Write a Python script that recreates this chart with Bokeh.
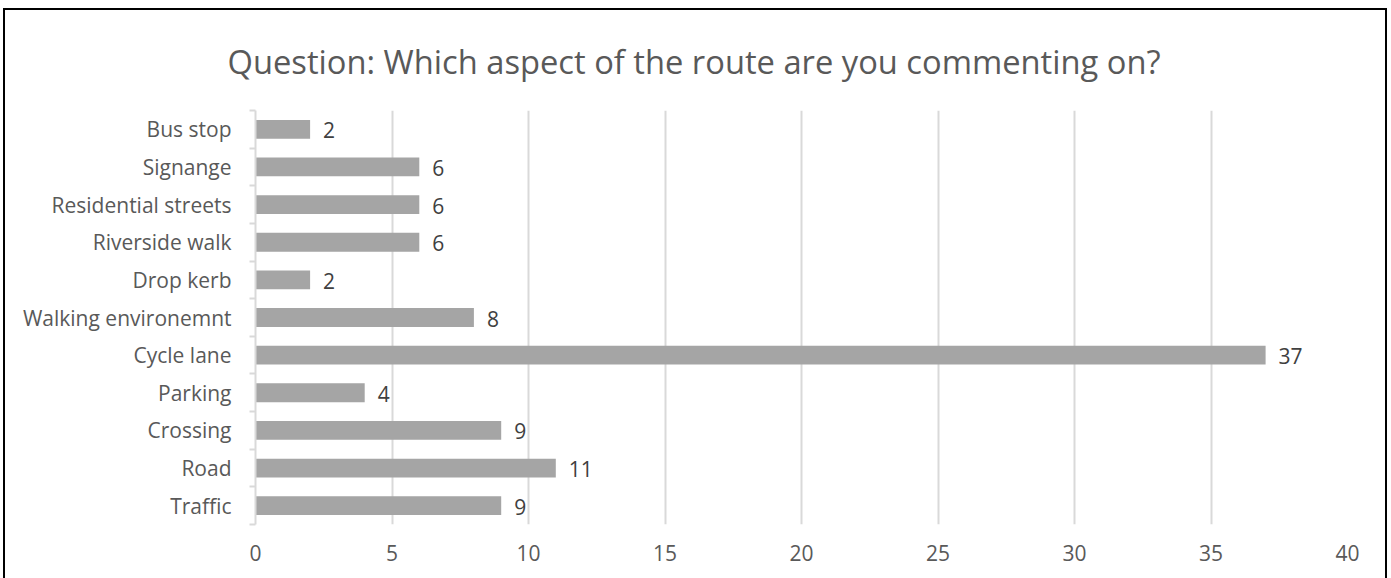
from bokeh.plotting import figure
from bokeh.models import FixedTicker, ColumnDataSource, LabelSet, Range1d
from bokeh.core.properties import value
from bokeh.embed import file_html
from bokeh.resources import INLINE

# Data (bottom -> top)
categories = ["Traffic", "Road", "Crossing", "Parking", "Cycle lane",
              "Walking environemnt", "Drop kerb", "Riverside walk",
              "Residential streets", "Signange", "Bus stop"]
counts = [9, 11, 9, 4, 37, 8, 2, 6, 6, 6, 2]
x_ticks = [0, 5, 10, 15, 20, 25, 30, 35, 40]
title_text = "Question: Which aspect of the route are you commenting on?"

FONT = "Open Sans"
GREY_TXT = "#595959"

ypos = [i + 0.5 for i in range(len(categories))]
src = ColumnDataSource(dict(y=ypos, v=counts, lbl=[str(c) for c in counts], cat=categories))

p = figure(width=1384, height=570, output_backend="svg", toolbar_location=None,
           x_range=Range1d(0, 40), y_range=Range1d(0, len(categories)),
           min_border_left=250, min_border_right=42, min_border_top=98, min_border_bottom=56,
           title=title_text)
p.styles = {"border": "2px solid black", "border-bottom": "none",
            "margin-left": "3px", "margin-top": "8px"}

p.hbar(y="y", right="v", left=0, height=0.5, source=src, fill_color="#a5a5a5", line_color=None)

labels = LabelSet(x="v", y="y", text="lbl", source=src, x_offset=13, y_offset=-1,
                  text_baseline="middle", text_align="left", text_color="#404040",
                  text_font=value(FONT), text_font_size="21px")
p.add_layout(labels)

p.title.text_font = FONT
p.title.text_font_size = "32.7px"
p.title.text_font_style = "normal"
p.title.text_color = GREY_TXT
p.title.align = "left"
p.title.offset = -28
p.title.standoff = 53

p.outline_line_color = None
p.background_fill_color = "white"
p.border_fill_color = "white"

# x axis
p.xaxis.ticker = FixedTicker(ticks=x_ticks)
p.xaxis.axis_line_color = None
p.xaxis.major_tick_line_color = None
p.xaxis.minor_tick_line_color = None
p.xaxis.major_label_text_font = FONT
p.xaxis.major_label_text_font_size = "21px"
p.xaxis.major_label_text_color = GREY_TXT
p.xaxis.major_label_standoff = 14

p.xgrid.ticker = FixedTicker(ticks=x_ticks)
p.xgrid.grid_line_color = "#d9d9d9"
p.xgrid.grid_line_width = 2
p.ygrid.grid_line_color = None

# y axis
p.yaxis.ticker = FixedTicker(ticks=ypos, minor_ticks=list(range(len(categories) + 1)))
p.yaxis.major_label_overrides = {y: c for y, c in zip(ypos, categories)}
p.yaxis.axis_line_color = "#d9d9d9"
p.yaxis.axis_line_width = 2
p.yaxis.major_tick_line_color = None
p.yaxis.minor_tick_line_color = "#d9d9d9"
p.yaxis.minor_tick_line_width = 2
p.yaxis.minor_tick_out = 6
p.yaxis.minor_tick_in = 0
p.yaxis.major_label_text_font = FONT
p.yaxis.major_label_text_font_size = "21px"
p.yaxis.major_label_text_color = GREY_TXT
p.yaxis.major_label_standoff = 18

open("out.html", "w").write(file_html(p, INLINE))
